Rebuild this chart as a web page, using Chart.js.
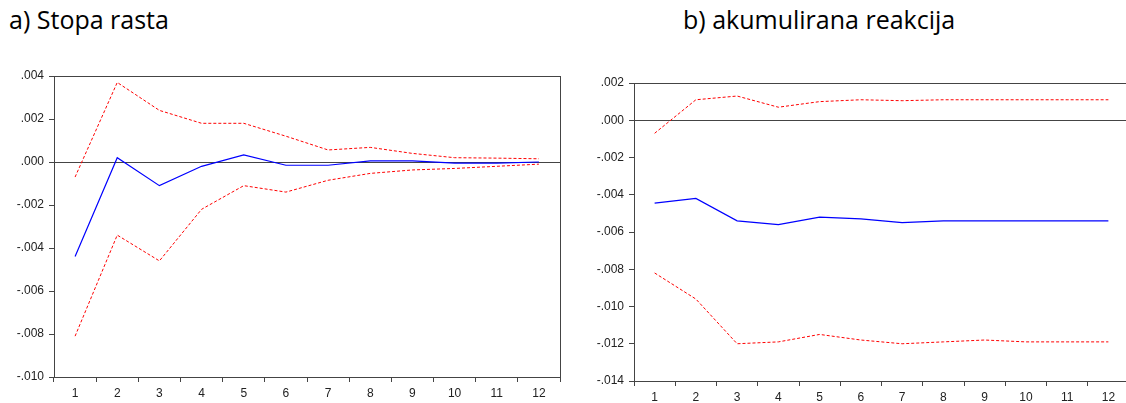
<!DOCTYPE html>
<html>
<head>
<meta charset="utf-8">
<script src="https://cdn.jsdelivr.net/npm/chart.js@4.4.1/dist/chart.umd.min.js"></script>
<style>
  body { margin: 0; width: 1126px; height: 403px; overflow: hidden; background: #fff; position: relative; }
  .title { position: absolute; top: 7px; font-family: "Open Sans", sans-serif; font-size: 25px; line-height: 1; color: #000; white-space: nowrap; }
  .box { position: absolute; top: 60px; height: 343px; }
</style>
</head>
<body>
<div class="title" style="left:9px">a) Stopa rasta</div>
<div class="title" style="left:683px">b) akumulirana reakcija</div>
<div class="box" style="left:0; width:566px"><canvas id="chartA"></canvas></div>
<div class="box" style="left:575px; width:560px"><canvas id="chartB"></canvas></div>
<script>
// periodi
const periodi = ['1','2','3','4','5','6','7','8','9','10','11','12'];

// a) stopa rasta
const rastOdziv = [-0.0044, 0.0002, -0.0011, -0.0002, 0.00033, -0.00015, -0.00015, 0.00005, 0.00005, -0.00005, -0.00005, 0.0];
const rastGornja = [-0.0007, 0.0037, 0.0024, 0.0018, 0.0018, 0.0012, 0.00056, 0.00068, 0.0004, 0.0002, 0.00018, 0.00015];
const rastDonja = [-0.0081, -0.0034, -0.0046, -0.0022, -0.0011, -0.0014, -0.00085, -0.00053, -0.00037, -0.0003, -0.0002, -0.0001];

// b) akumulirana reakcija
const akumOdziv = [-0.00445, -0.0042, -0.0054, -0.0056, -0.0052, -0.0053, -0.0055, -0.0054, -0.0054, -0.0054, -0.0054, -0.0054];
const akumGornja = [-0.0007, 0.0011, 0.0013, 0.0007, 0.001, 0.0011, 0.00105, 0.0011, 0.0011, 0.0011, 0.0011, 0.0011];
const akumDonja = [-0.0082, -0.0096, -0.0120, -0.0119, -0.0115, -0.0118, -0.0120, -0.0119, -0.0118, -0.0119, -0.0119, -0.0119];

const osA = { min: -0.010, max: 0.004, step: 0.002 };
const osB = { min: -0.014, max: 0.002, step: 0.002 };

// okvir oko grafa
const okvir = {
    id: 'okvir',
    beforeDatasetsDraw(chart) {
        const a = chart.chartArea;
        const c = chart.ctx;
        c.save();
        c.strokeStyle = '#444';
        c.lineWidth = 1;
        c.strokeRect(Math.round(a.left) + 0.5, Math.round(a.top) + 0.5, Math.round(a.right - a.left), Math.round(a.bottom - a.top));
        c.restore();
    }
};

function fmt(v) {
    return v.toFixed(3).replace('0.', '.');
}

function makeChart(id, odziv, gornja, donja, os, yWidth, xHeight, padTop) {
    const ctx = document.getElementById(id).getContext('2d');
    return new Chart(ctx, {
        type: 'line',
        data: {
            labels: periodi,
            datasets: [
                { data: gornja, borderColor: '#ff0000', borderWidth: 1, borderDash: [3, 2], pointRadius: 0, tension: 0 },
                { data: donja, borderColor: '#ff0000', borderWidth: 1, borderDash: [3, 2], pointRadius: 0, tension: 0 },
                { data: odziv, borderColor: '#0000ff', borderWidth: 1.2, pointRadius: 0, tension: 0 }
            ]
        },
        plugins: [okvir],
        options: {
            responsive: true,
            maintainAspectRatio: false,
            animation: false,
            layout: { padding: { top: padTop, right: 6, left: 0, bottom: 0 } },
            plugins: { legend: { display: false }, tooltip: { enabled: false } },
            scales: {
                x: {
                    type: 'category',
                    offset: true,
                    grid: { offset: true, drawOnChartArea: false, drawTicks: true, tickLength: 5, color: '#444' },
                    border: { display: false },
                    ticks: { color: '#222', font: { family: 'Liberation Sans', size: 12 }, padding: 4, maxRotation: 0, autoSkip: false },
                    afterFit(s) { s.height = xHeight; }
                },
                y: {
                    min: os.min,
                    max: os.max,
                    border: { display: false },
                    grid: {
                        drawTicks: true,
                        tickLength: 5,
                        tickColor: '#444',
                        color: c => (Math.abs(c.tick.value) < 1e-9 ? '#444' : 'rgba(0,0,0,0)')
                    },
                    ticks: {
                        stepSize: os.step,
                        color: '#222',
                        font: { family: 'Liberation Sans', size: 12 },
                        padding: 5,
                        callback: v => fmt(v)
                    },
                    afterFit(s) { s.width = yWidth; }
                }
            }
        }
    });
}

makeChart('chartA', rastOdziv, rastGornja, rastDonja, osA, 54, 26, 16);
makeChart('chartB', akumOdziv, akumGornja, akumDonja, osB, 59, 22, 23);
</script>
</body>
</html>
